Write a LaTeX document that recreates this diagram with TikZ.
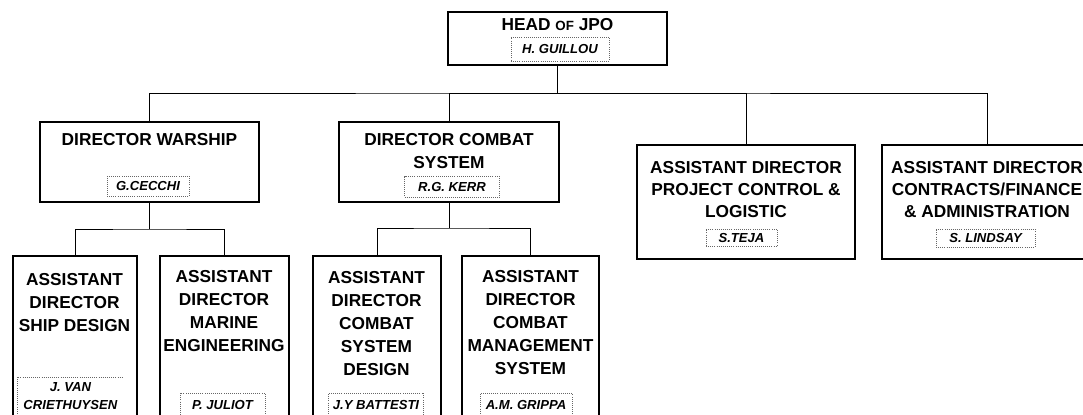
\documentclass[tikz,border=0pt]{standalone}
\usepackage{fontspec}
\setmainfont{Liberation Sans}
\usetikzlibrary{calc}

\begin{document}
\begin{tikzpicture}[x=0.025cm, y=-0.025cm,
  post/.style 2 args={draw, line width=0.9pt, inner sep=0pt, outer sep=0pt,
    anchor=north west, minimum width=#1*0.025cm, minimum height=#2*0.025cm},
  role/.style={inner sep=0pt, anchor=north, align=center,
    font=\fontsize{12.3}{16.3}\selectfont\bfseries},
  who/.style 2 args={draw=black!60, densely dotted, line width=0.5pt, inner sep=0pt,
    minimum width=#1*0.025cm, minimum height=#2*0.025cm,
    font=\fontsize{9.3}{12.8}\selectfont\bfseries\itshape},
  link/.style={line width=0.7pt}]
  \useasboundingbox (0,0) rectangle (1083,414);
  \clip (0,0) rectangle (1083,414);

  % boxes, top left corner and size in pixels of the scan
  \node[post={219}{53}] (head) at (448,12) {};
  \node[post={219}{80}] (warship) at (40,122) {};
  \node[post={220}{80}] (combat) at (339,122) {};
  \node[post={218}{114}] (pcl) at (637,145) {};
  \node[post={210}{114}] (cfa) at (882,145) {};
  \node[post={124}{170}] (sub1) at (13,256) {};
  \node[post={129}{170}] (sub2) at (160,256) {};
  \node[post={128}{170}] (sub3) at (313,256) {};
  \node[post={137}{170}] (sub4) at (462,256) {};

  % titles
  \node[role] (headt) at (557.5,18) {HEAD {\fontsize{9.5}{10}\selectfont OF} JPO};
  \node[role] (warshipt) at (149.5,133) {DIRECTOR WARSHIP};
  \node[role] (combatt) at (449,133) {DIRECTOR COMBAT\\SYSTEM};
  \node[role, font=\fontsize{12.3}{15.6}\selectfont\bfseries] (pclt) at (746,161)
    {ASSISTANT DIRECTOR\\PROJECT CONTROL \&\\LOGISTIC};
  \node[role, font=\fontsize{12.3}{15.6}\selectfont\bfseries] (cfat) at (987,161)
    {ASSISTANT DIRECTOR\\CONTRACTS/FINANCE\\\& ADMINISTRATION};
  \node[role] (sub1t) at (74.5,273) {ASSISTANT\\DIRECTOR\\SHIP DESIGN};
  \node[role] (sub2t) at (224,270) {ASSISTANT\\DIRECTOR\\MARINE\\ENGINEERING};
  \node[role] (sub3t) at (376.5,271) {ASSISTANT\\DIRECTOR\\COMBAT\\SYSTEM\\DESIGN};
  \node[role] (sub4t) at (530.5,270) {ASSISTANT\\DIRECTOR\\COMBAT\\MANAGEMENT\\SYSTEM};

  % names
  \node[who={98}{24}] (guillou) at (560,49) {H. GUILLOU};
  \node[who={82}{20}] (cecchi) at (148,186) {G.CECCHI};
  \node[who={95}{21}] (kerr) at (452,187) {R.G. KERR};
  \node[who={71}{17}] (teja) at (741.5,237.5) {S.TEJA};
  \node[who={99}{18}] (lindsay) at (985.5,238) {S. LINDSAY};
  \node[who={106}{38}, draw=none, anchor=north west, align=center] (vanc) at (17,377)
    {J. VAN\\CRIETHUYSEN};
  \draw[black!60, densely dotted, line width=0.5pt]
    (vanc.south west) -- (vanc.north west) -- (vanc.north east);
  \node[who={85}{24}] (juliot) at (222.5,405) {P. JULIOT};
  \node[who={95}{24}] (battesti) at (376,405) {J.Y BATTESTI};
  \node[who={92}{24}] (grippa) at (526,405) {A.M. GRIPPA};

  % connectors
  \coordinate (bus) at (557.5,93);
  \draw[link] (head.south) -- (bus);
  \draw[link] (warship.north) |- (bus) -| (cfa.north);
  \draw[link] (bus) -| (combat.north);
  \draw[link] (bus) -| (pcl.north);
  \coordinate (wbus) at (149.5,229);
  \draw[link] (warship.south) -- (wbus);
  \draw[link] (sub1.north) |- (wbus) -| (sub2.north);
  \coordinate (cbus) at (449,228);
  \draw[link] (combat.south) -- (cbus);
  \draw[link] (sub3.north) |- (cbus) -| (sub4.north);
\end{tikzpicture}
\end{document}
